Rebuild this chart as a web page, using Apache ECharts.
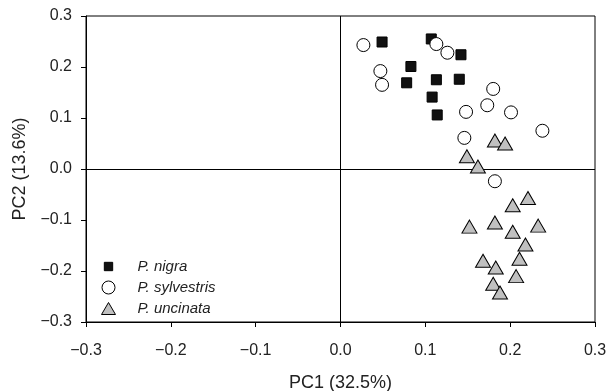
<!DOCTYPE html>
<html>
<head>
<meta charset="utf-8">
<script src="https://cdn.jsdelivr.net/npm/echarts@6/dist/echarts.min.js"></script>
<style>
  html, body { margin: 0; padding: 0; background: #fff; }
  #chart { width: 607px; height: 391px; }
</style>
</head>
<body>
<div id="chart"></div>
<script>
// PCA scores (PC1, PC2) per pine species
const nigra = [
  [0.049, 0.249], [0.107, 0.255], [0.142, 0.224], [0.083, 0.201],
  [0.078, 0.169], [0.113, 0.175], [0.140, 0.176], [0.108, 0.141],
  [0.114, 0.106]
];
const sylvestris = [
  [0.027, 0.243], [0.113, 0.245], [0.126, 0.228], [0.047, 0.192],
  [0.049, 0.165], [0.180, 0.157], [0.173, 0.125], [0.148, 0.112],
  [0.201, 0.111], [0.238, 0.075], [0.146, 0.061], [0.182, -0.024]
];
const uncinata = [
  [0.182, 0.056], [0.194, 0.050], [0.149, 0.025], [0.162, 0.005],
  [0.221, -0.057], [0.203, -0.071], [0.152, -0.113], [0.182, -0.105],
  [0.203, -0.123], [0.233, -0.111], [0.218, -0.148], [0.168, -0.180],
  [0.211, -0.176], [0.183, -0.193], [0.207, -0.210], [0.180, -0.225],
  [0.188, -0.242]
];
const seriesNames = ['P. nigra', 'P. sylvestris', 'P. uncinata'];
const axisTicks = [-0.3, -0.2, -0.1, 0.0, 0.1, 0.2, 0.3];
const xTitle = 'PC1 (32.5%)';
const yTitle = 'PC2 (13.6%)';

const font = 'Liberation Sans, Arial, sans-serif';
const chart = echarts.init(document.getElementById('chart'), null, { renderer: 'canvas' });

function valueAxis(name, isX) {
  return {
    type: 'value',
    min: axisTicks[0],
    max: axisTicks[axisTicks.length - 1],
    interval: 0.1,
    name: name,
    nameLocation: 'middle',
    nameGap: isX ? 52 : 55,
    nameTextStyle: { fontFamily: font, fontSize: 18, color: '#222' },
    axisLine: { show: true, onZero: false, lineStyle: { color: '#000', width: 1 } },
    axisTick: { show: true, inside: false, length: 5, lineStyle: { color: '#000' } },
    axisLabel: {
      fontFamily: font, fontSize: 16, color: '#222', margin: isX ? 21 : 14,
      formatter: v => (v < 0 ? '\u2212' : '') + Math.abs(v).toFixed(1)
    },
    splitLine: { show: false }
  };
}

const squareStyle = { color: '#111', borderColor: '#000', borderWidth: 1 };
const circleStyle = { color: '#fff', borderColor: '#000', borderWidth: 1 };
const triangleStyle = { color: '#c0c0c0', borderColor: '#000', borderWidth: 1 };

const option = {
  backgroundColor: '#fff',
  animation: false,
  grid: {
    left: 86, right: 12, top: 16, bottom: 69,
    outerBoundsMode: 'none',
    containLabel: false,
    show: true, borderColor: '#000', borderWidth: 1, backgroundColor: 'transparent'
  },
  xAxis: valueAxis(xTitle, true),
  yAxis: valueAxis(yTitle, false),
  legend: {
    orient: 'vertical',
    left: 96, top: 254,
    itemWidth: 14, itemHeight: 13,
    itemGap: 6,
    textStyle: { fontFamily: font, fontSize: 15, fontStyle: 'italic', color: '#222', padding: [0, 0, 0, 17] },
    data: [
      { name: seriesNames[0], icon: 'path://M0,0M14,14M2.5,2.5h9v9h-9z', itemStyle: squareStyle },
      { name: seriesNames[1], icon: 'circle', itemStyle: circleStyle },
      { name: seriesNames[2], icon: 'path://M7,0L14,12H0Z', itemStyle: triangleStyle }
    ]
  },
  series: [
    {
      name: seriesNames[0], type: 'scatter', data: nigra,
      symbol: 'rect', symbolSize: 10,
      itemStyle: Object.assign({ opacity: 1 }, squareStyle),
      markLine: {
        silent: true, symbol: 'none', label: { show: false },
        lineStyle: { color: '#000', width: 1, type: 'solid' },
        data: [{ xAxis: 0 }, { yAxis: 0 }]
      },
      z: 3
    },
    {
      name: seriesNames[1], type: 'scatter', data: sylvestris,
      symbol: 'circle', symbolSize: 13,
      itemStyle: Object.assign({ opacity: 1 }, circleStyle),
      z: 4
    },
    {
      name: seriesNames[2], type: 'scatter', data: uncinata,
      symbol: 'triangle', symbolSize: [15, 13],
      itemStyle: Object.assign({ opacity: 1 }, triangleStyle),
      z: 5
    }
  ]
};
chart.setOption(option);
</script>
</body>
</html>
